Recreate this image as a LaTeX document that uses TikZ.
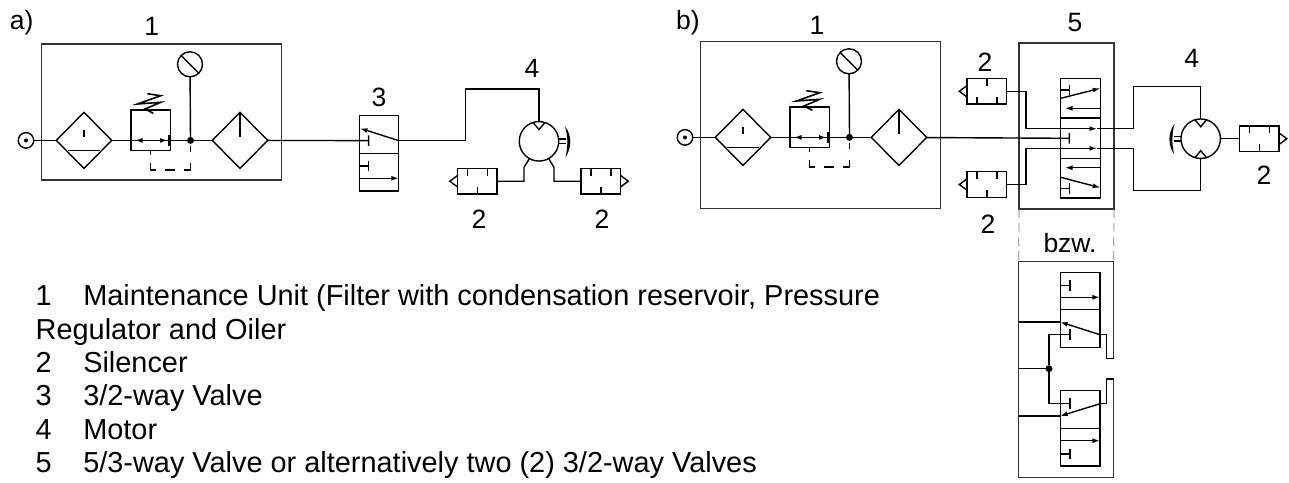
\documentclass[tikz,border=0pt]{standalone}
\usepackage{fontspec}
\setmainfont{Liberation Sans}
\usetikzlibrary{arrows.meta, shapes.geometric}

\tikzset{
	numlabel/.style={font=\fontsize{26.5}{33}\selectfont, inner sep=0pt},
	listline/.style={font=\fontsize{28.9}{33}\selectfont, inner sep=0pt, anchor=base west},
	framebox/.style={draw=black!80, line width=1.1pt, inner sep=0pt, outer sep=0pt},
	cell/.style={draw, inner sep=0pt, outer sep=0pt, minimum width=39.5pt},
	lens/.style={draw, diamond, aspect=1, inner sep=0pt, outer sep=0pt, minimum width=55.5pt, minimum height=56pt},
	port/.style={draw, circle, inner sep=0pt, outer sep=0pt, minimum size=15.5pt},
	gaugec/.style={draw, circle, inner sep=0pt, outer sep=0pt, minimum size=25pt},
	motorc/.style={draw, circle, inner sep=0pt, outer sep=0pt, minimum size=39.5pt},
	joint/.style={fill, circle, inner sep=0pt, outer sep=0pt, minimum size=7pt},
	muffler/.style={draw, inner sep=0pt, outer sep=0pt, minimum width=39.5pt, minimum height=25.5pt},
	tee/.style={-{Bar[width=10.5pt,line width=1.4pt]}},
	flow/.style={-{Latex[length=7.5pt,width=5pt]}},
}

% filter, regulator, gauge and oiler
\newcommand\maintunit[1]{%
	\begin{scope}[#1]
		\node[port] (src) at (26,140.4) {};
		\fill (src) circle (2);
		\node[lens] (filter) at (84,140.4) {};
		\node[cell, minimum height=40.7pt] (reg) at (150.6,130.4) {};
		\node[joint] (jct) at (190.5,140.4) {};
		\node[gaugec] (gauge) at (190,64.3) {};
		\node[lens] (oiler) at (240,140.4) {};
		\draw (src) -- (filter);
		\draw (filter) -- (jct) -- (oiler);
		\draw (gauge) -- (jct);
		\draw (gauge.north west) -- (gauge.south east);
		\draw (68,150.6) -- (100.4,150.6);
		\draw (84,130) -- (84,137);
		\draw (240,112.4) -- (240,137);
		\draw[flow] (142.5,140.4) -- (135,140.4);
		\draw[flow] (160,140.4) -- (167.5,140.4);
		\draw[line width=2.6pt] (169.3,135) -- (169.3,146);
		\draw[line width=1.6pt] (147.3,93.7) -- (160.7,95.7) -- (137.5,104) -- (160.7,102.3) -- (145,109) -- (153.3,113.3);
		\draw[dash pattern=on 6pt off 11pt on 14pt off 8.5pt on 10.5pt off 8.5pt on 13pt off 8pt on 5pt off 30pt, line width=1.1pt] (190.7,146) -- (190.7,170) -- (150.7,170) -- (150.7,150);
	\end{scope}}

% name, centre, xscale, yscale
\newcommand\silencer[4]{%
	\begin{scope}[shift={(#2)},xscale=#3,yscale=#4]
		\node[muffler] (#1) at (0,0) {};
		\draw (-19.7,-5.8) -- (-27.5,0) -- (-19.7,5.8);
		\draw (-10,-12.7) -- (-10,-5.5);
		\draw (10,-12.7) -- (10,-5.5);
		\draw (0,12.7) -- (0,5.5);
	\end{scope}}

% shaft and turning mark of a motor
\newcommand\torque[1]{%
	\begin{scope}[#1]
		\draw (19.5,-2.4) -- (27,-2.4);
		\draw (19.5,2.4) -- (27,2.4);
		\fill (26,-15) .. controls (33,-6) and (33,6) .. (26.5,16) .. controls (29,6) and (29,-6) .. cycle;
	\end{scope}}

\begin{document}
\begin{tikzpicture}[x=1pt, y=-1pt, line width=1.4pt]
	\useasboundingbox (0,0) rectangle (1289,482);

	% a)
	\node[numlabel] (tagA) at (21.7,22.7) {a)};
	\node[numlabel] (numA1) at (151.7,26) {1};
	\node[framebox, minimum width=240pt, minimum height=136pt] (boxA) at (161.7,112) {};
	\maintunit{name prefix=a-}

	\node[cell, minimum height=37.6pt] (vThreeTop) at (379,134.5) {};
	\node[cell, minimum height=37.7pt] (vThreeBot) at (379,172.2) {};
	\node[numlabel] (numA3) at (379,97) {3};
	\coordinate (vThreeIn) at (369.3,140.6);
	\coordinate (vThreeOut) at (398.7,140.6);
	\draw[tee] (a-oiler) -- (vThreeIn);
	\draw[flow] (vThreeOut) -- (360,128.3);
	\draw[tee] (vThreeBot.west |- 0,166) -- (369.3,166);
	\draw[flow] (vThreeBot.west |- 0,178.3) -- (vThreeBot.east |- 0,178.3);

	\node[motorc] (motorA) at (539,141.3) {};
	\node[numlabel] (numA4) at (532,68) {4};
	\draw (vThreeOut) -- (465.3,140.6) |- (539,89) -- (motorA);
	\draw (533,122.5) -- (539,129.5) -- (545,122.5);
	\torque{shift={(motorA)}}
	\silencer{silA}{477.3,181.2}{1}{1}
	\silencer{silB}{600.8,181.2}{-1}{1}
	\draw (motorA.241) -- (524,167.3) |- (silA);
	\draw (motorA.299) -- (554,167.3) |- (silB);
	\node[numlabel] (numA2) at (479,219) {2};
	\node[numlabel] (numA2b) at (602,219) {2};

	% b)
	\node[numlabel] (tagB) at (688,22.7) {b)};
	\node[numlabel] (numB1) at (817,25) {1};
	\node[framebox, minimum width=240pt, minimum height=166.3pt] (boxB) at (820.7,124.9) {};
	\maintunit{name prefix=b-, shift={(659,-3)}}

	\node[numlabel] (numB5) at (1075,23) {5};
	\node[framebox, minimum width=95pt, minimum height=166pt] (boxFive) at (1066.5,126) {};
	\node[cell, minimum height=39.3pt] (vFiveTop) at (1080.5,98.4) {};
	\node[cell, minimum height=40.3pt] (vFiveMid) at (1080.5,138.2) {};
	\node[cell, minimum height=39.7pt] (vFiveBot) at (1080.5,178.2) {};
	\coordinate (vFiveIn) at (1070,138.3);
	\draw[tee] (b-oiler) -- (vFiveIn);
	\draw[tee] (vFiveTop.west |- 0,90) -- (1070,90);
	\draw[flow] (vFiveTop.west |- 0,98.3) -- (1100.3,88.3);
	\draw[flow] (vFiveTop.east |- 0,108.3) -- (1065,108.3);
	\draw[flow] (vFiveBot.east |- 0,167.7) -- (1065,167.7);
	\draw[flow] (vFiveBot.west |- 0,177.3) -- (1100.3,187.7);
	\draw[tee] (vFiveBot.west |- 0,188.3) -- (1070,188.3);

	\silencer{silC}{986.8,91.3}{1}{-1}
	\silencer{silD}{986.8,184.5}{1}{1}
	\node[numlabel] (numB2a) at (985,62) {2};
	\node[numlabel] (numB2b) at (988,224) {2};
	\coordinate (busC) at (1026,128.7);
	\coordinate (busD) at (1026,148.3);
	\draw (silC) -| (busC);
	\draw (silD) -| (busD);
	\draw[flow] (busC) -- (1097,128.7);
	\draw[flow] (busD) -- (1097,148.3);

	\node[motorc] (motorB) at (1200.7,138.7) {};
	\node[numlabel] (numB4) at (1191.7,58.5) {4};
	\draw (1097,128.7) -- (1133.3,128.7) |- (1200.7,86.7) -- (motorB);
	\draw (1097,148.3) -- (1133.3,148.3) |- (1200.7,190.7) -- (motorB);
	\draw (1194.7,119.5) -- (1200.7,126.7) -- (1206.7,119.5);
	\draw (1194.7,157.9) -- (1200.7,150.7) -- (1206.7,157.9);
	\torque{shift={(motorB)}, xscale=-1}
	\silencer{silE}{1259.3,138.7}{-1}{1}
	\draw (motorB) -- (silE);
	\node[numlabel] (numB2c) at (1264,175) {2};

	% alternative
	\node[numlabel] (numBzw) at (1070,243) {bzw.};
	\coordinate (altNW) at (1018.7,261.3);
	\coordinate (altNE) at (1113.7,261.3);
	\coordinate (altSW) at (1018.7,477.3);
	\coordinate (altSE) at (1113.7,477.3);
	\draw[draw=black!80, line width=1.1pt] (1113.7,358.7) -- (altNE) -- (altNW) -- (altSW) -- (altSE) -- (1113.7,379);
	\draw[dash pattern=on 9pt off 5pt, draw=black!55, line width=0.7pt] (boxFive.south west) -- (altNW);
	\draw[dash pattern=on 9pt off 5pt, draw=black!55, line width=0.7pt] (boxFive.south east) -- (altNE);

	\node[cell, minimum height=37.4pt] (vUpTop) at (1080.2,291) {};
	\node[cell, minimum height=37.6pt] (vUpBot) at (1080.2,328.5) {};
	\node[cell, minimum height=38pt] (vLoTop) at (1080.2,409.7) {};
	\node[cell, minimum height=37.3pt] (vLoBot) at (1080.2,447.3) {};
	\node[joint] (altJct) at (1049,368.7) {};

	\draw[tee] (vUpTop.west |- 0,285.7) -- (1070.7,285.7);
	\draw[flow] (vUpTop.west |- 0,297.3) -- (vUpTop.east |- 0,297.3);
	\draw[tee] (altJct) -- (1049,334.7) -- (1070.7,334.7);
	\draw[tee] (altJct) -- (1049,403.7) -- (1070.7,403.7);
	\draw (altNW |- altJct) -- (altJct);
	\draw (altNW |- 0,322) -- (1060.2,322);
	\draw (altNW |- 0,416) -- (1060.2,416);
	\draw[flow] (1100,334.7) -- (1060.2,322);
	\draw[flow] (1100,403.7) -- (1060.2,416);
	\draw (1100,334.7) -- (1106.3,334.7) |- (1113.7,358.7);
	\draw (1100,403.7) -- (1106.3,403.7) |- (1113.7,379);
	\draw[flow] (vLoBot.west |- 0,440.7) -- (vLoBot.east |- 0,440.7);
	\draw[tee] (vLoBot.west |- 0,454) -- (1070.7,454);

	% list
	\node[listline] (itemWrap) at (35,339.3) {Regulator and Oiler};
	\foreach \yy/\num/\txt in {305.7/1/{Maintenance Unit (Filter with condensation reservoir, Pressure},
		372.7/2/Silencer, 405.7/3/{3/2-way Valve}, 439.3/4/Motor,
		472.3/5/{5/3-way Valve or alternatively two (2) 3/2-way Valves}} {
		\node[listline] (itemNum\num) at (35,\yy) {\num};
		\node[listline] (itemTxt\num) at (82.6,\yy) {\txt};
	}
\end{tikzpicture}
\end{document}
